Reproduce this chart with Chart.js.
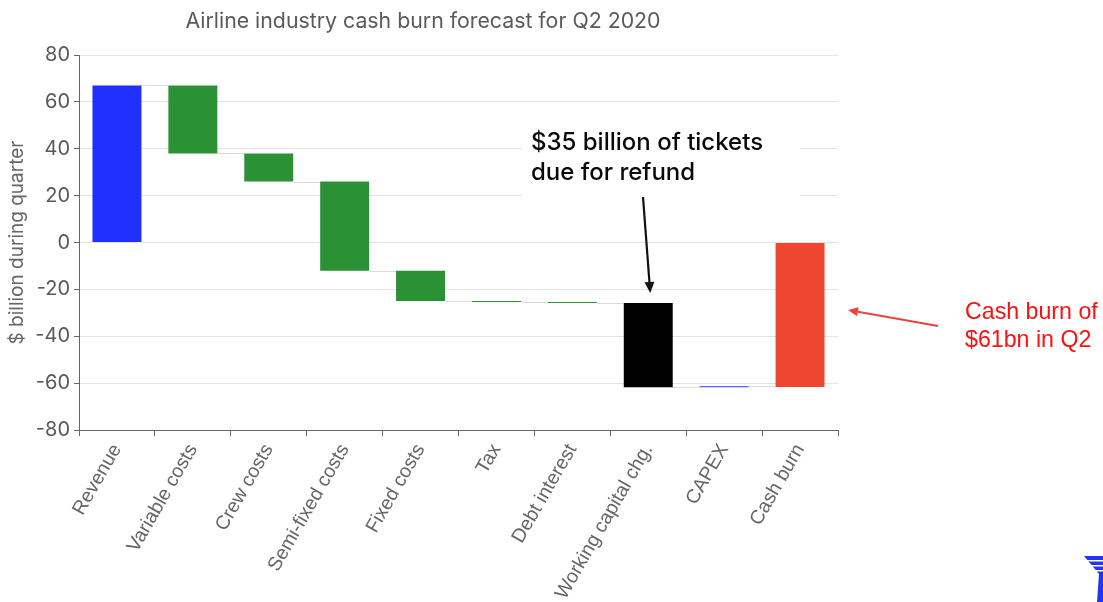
<!DOCTYPE html>
<html><head><meta charset="utf-8">
<script src="https://cdn.jsdelivr.net/npm/chart.js@4"></script>
<style>html,body{margin:0;padding:0;background:#fff;}#wrap{width:1103px;height:602px;position:relative;overflow:hidden;}</style>
</head><body><div id="wrap"><canvas id="c" width="1103" height="602"></canvas></div>
<script>
const categories = ['Revenue','Variable costs','Crew costs','Semi-fixed costs','Fixed costs','Tax','Debt interest','Working capital chg.','CAPEX','Cash burn'];
const barStart = [0, 67, 38, 26, -12, -25, -25.4, -25.8, -61.8, 0];
const barEnd   = [67, 38, 26, -12, -25, -25.4, -25.8, -61.8, -61.3, -61.7];
const barColors = ['#1f2ffc','#2a9134','#2a9134','#2a9134','#2a9134','#2a9134','#2a9134','#000000','#2b35ff','#ef4632'];
const titleText = 'Airline industry cash burn forecast for Q2 2020';
const yAxisTitle = '$ billion during quarter';
const yMin = -80, yMax = 80, yStep = 20;
const noteRefund = ['$35 billion of tickets', 'due for refund'];
const noteBurn = ['Cash burn of', '$61bn in Q2'];
const FONT = '"Liberation Sans", Arial, sans-serif';
const UI_FONT = 'Inter, "DejaVu Sans", sans-serif';

function arrow(ctx, x1, y1, x2, y2, color, w, head) {
  ctx.save();
  ctx.strokeStyle = color; ctx.fillStyle = color; ctx.lineWidth = w;
  const a = Math.atan2(y2 - y1, x2 - x1);
  const bx = x2 - head * Math.cos(a), by = y2 - head * Math.sin(a);
  ctx.beginPath(); ctx.moveTo(x1, y1); ctx.lineTo(bx, by); ctx.stroke();
  ctx.beginPath();
  ctx.moveTo(x2, y2);
  ctx.lineTo(bx + head * 0.45 * Math.sin(a), by - head * 0.45 * Math.cos(a));
  ctx.lineTo(bx - head * 0.45 * Math.sin(a), by + head * 0.45 * Math.cos(a));
  ctx.closePath(); ctx.fill();
  ctx.restore();
}

const annotations = {
  id: 'annotations',
  beforeDatasetsDraw(chart) {
    const ctx = chart.ctx;
    const y = chart.scales.y;
    ctx.save();
    ctx.fillStyle = '#fff';
    ctx.fillRect(522, 128, 278, 69);
    ctx.strokeStyle = '#dcdcdc'; ctx.lineWidth = 1;
    const meta = chart.getDatasetMeta(0);
    for (let i = 0; i < categories.length - 1; i++) {
      const b1 = meta.data[i], b2 = meta.data[i + 1];
      const yy = Math.round(y.getPixelForValue(barEnd[i])) + 0.5;
      ctx.beginPath();
      ctx.moveTo(b1.x + b1.width / 2, yy);
      ctx.lineTo(b2.x - b2.width / 2, yy);
      ctx.stroke();
    }
    ctx.restore();
  },
  afterDraw(chart) {
    const ctx = chart.ctx;
    const x = chart.scales.x, y = chart.scales.y;
    ctx.save();
    ctx.fillStyle = '#5a5a5a';
    ctx.font = '21.3px ' + UI_FONT;
    ctx.textAlign = 'center'; ctx.textBaseline = 'middle';
    ctx.fillText(titleText, 423, 22);
    ctx.fillStyle = '#0a0a0a';
    ctx.font = '500 24px ' + UI_FONT;
    ctx.textAlign = 'left';
    ctx.fillText(noteRefund[0], 531, 143);
    ctx.fillText(noteRefund[1], 531, 173);
    const wcX = x.getPixelForValue(7);
    arrow(ctx, 643, 197, wcX + 2, y.getPixelForValue(barStart[7]) - 10, '#111', 2.2, 11);
    ctx.fillStyle = '#ff1010';
    ctx.font = '23.2px ' + FONT;
    ctx.fillText(noteBurn[0], 965, 313);
    ctx.fillText(noteBurn[1], 965, 341);
    arrow(ctx, 938, 326, 848, 310, '#e8453c', 2, 10);
    ctx.fillStyle = '#2235f0';
    ctx.beginPath();
    ctx.moveTo(1084, 556); ctx.lineTo(1103, 556); ctx.lineTo(1103, 602); ctx.lineTo(1097, 602); ctx.lineTo(1099, 574);
    ctx.closePath(); ctx.fill();
    ctx.fillStyle = '#fff';
    for (const sy of [560, 565, 570]) ctx.fillRect(1084, sy, 19, 1.5);
    ctx.restore();
  }
};

new Chart(document.getElementById('c'), {
  type: 'bar',
  data: {
    labels: categories,
    datasets: [{
      data: barStart.map((s, i) => [s, barEnd[i]]),
      backgroundColor: barColors,
      borderWidth: 0,
      borderSkipped: false,
      categoryPercentage: 1,
      barPercentage: 0.645
    }]
  },
  options: {
    responsive: false,
    animation: false,
    layout: { padding: { top: 55, right: 265, left: 0, bottom: 0 } },
    plugins: { legend: { display: false }, title: { display: false }, tooltip: { enabled: false } },
    scales: {
      x: {
        offset: true,
        grid: { display: true, drawOnChartArea: false, drawTicks: true, tickLength: 6, offset: true, color: '#666' },
        border: { color: '#666', width: 1 },
        ticks: { autoSkip: false, minRotation: 60, maxRotation: 60, color: '#666', padding: 4, font: { size: 19.5, family: FONT } },
        afterFit(s) { s.height = 172; }
      },
      y: {
        min: yMin, max: yMax,
        ticks: { stepSize: yStep, color: '#595959', padding: 4, font: { size: 20, family: UI_FONT } },
        grid: { color: '#e4e4e4', lineWidth: 1, tickLength: 5, tickColor: '#666' },
        border: { color: '#666', width: 1 },
        title: { display: true, text: yAxisTitle, color: '#666', padding: { top: 6, bottom: 0 }, font: { size: 19, family: UI_FONT } },
        afterFit(s) { s.width = 79; }
      }
    }
  },
  plugins: [annotations]
});
</script></body></html>
